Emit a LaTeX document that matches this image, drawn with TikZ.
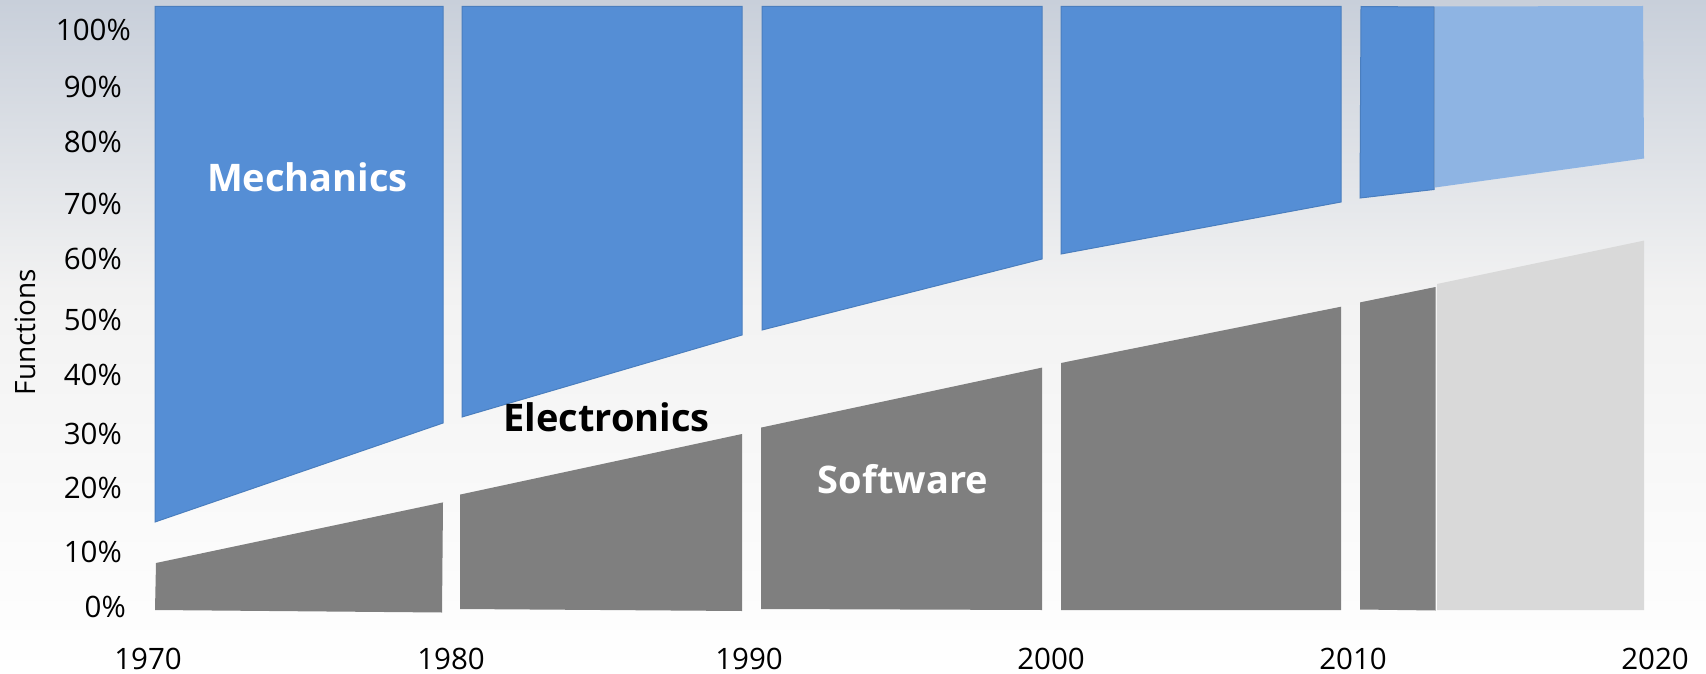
\documentclass[tikz,border=0pt]{standalone}
\usepackage{fontspec}
\setmainfont{Open Sans}
\definecolor{bgtop}{RGB}{200,207,218}
\definecolor{bgmid}{RGB}{242,242,242}
\definecolor{mechblue}{RGB}{85,142,213}
\definecolor{mechline}{RGB}{74,126,190}
\definecolor{lightblue}{RGB}{142,180,227}
\definecolor{softgrey}{RGB}{127,127,127}
\definecolor{lightgrey}{RGB}{217,217,217}
\begin{document}
\begin{tikzpicture}[x=1pt,y=-1pt,
  mech/.style={fill=mechblue,draw=mechline,line width=1pt,line join=miter},
  mechfut/.style={fill=lightblue},
  soft/.style={fill=softgrey},
  softfut/.style={fill=lightgrey},
  ylab/.style={font=\fontsize{29.5}{34}\selectfont,inner sep=0pt,anchor=base east,text=black},
  xlab/.style={font=\fontsize{29.5}{34}\selectfont,inner sep=0pt,anchor=base,text=black},
  biglab/.style={font=\fontsize{38}{42}\selectfont\bfseries,inner sep=0pt,anchor=base}]
\useasboundingbox (0,0) rectangle (1706,674);
% background
\shade[top color=bgtop,bottom color=bgmid] (0,0) rectangle (1706,291);
\shade[top color=bgmid,bottom color=white] (0,290) rectangle (1706,674);
% mechanics blocks
\path[mech] (155,6.5) -- (443,6.5) -- (443,423) -- (155,522) -- cycle;
\path[mech] (462,6.5) -- (742,6.5) -- (742,335) -- (462,417) -- cycle;
\path[mech] (762,6.5) -- (1042,6.5) -- (1042,259) -- (762,330) -- cycle;
\path[mech] (1061,6.5) -- (1341,6.5) -- (1341,202) -- (1061,254) -- cycle;
\path[mechfut] (1435,6.5) -- (1643,6) -- (1644,158.5) -- (1435,187.5) -- cycle;
\path[mech] (1361,6.5) -- (1434,7) -- (1434,189.5) -- (1360,198) -- cycle;
% software blocks
\path[soft] (156,563) -- (443,502.4) -- (442,612.5) -- (155,610) -- cycle;
\path[soft] (460,494.6) -- (742,434) -- (742,611) -- (460,609) -- cycle;
\path[soft] (761,427.6) -- (1042,367.6) -- (1042,610) -- (761,609) -- cycle;
\path[soft] (1061,363) -- (1341,306.7) -- (1341,610) -- (1061,610) -- cycle;
\path[soft] (1360,302.4) -- (1435.5,287) -- (1435.5,610.5) -- (1360,609.5) -- cycle;
\path[softfut] (1437,284) -- (1644,240.6) -- (1644,610) -- (1437,610) -- cycle;
% y axis labels
\node[ylab] (y100) at (131,40.3) {100\%};
\node[ylab] (y90) at (122,98) {90\%};
\node[ylab] (y80) at (122,152.8) {80\%};
\node[ylab] (y70) at (122,214.3) {70\%};
\node[ylab] (y60) at (122,269.3) {60\%};
\node[ylab] (y50) at (122,330.3) {50\%};
\node[ylab] (y40) at (122,385.3) {40\%};
\node[ylab] (y30) at (122,444.3) {30\%};
\node[ylab] (y20) at (122,498.3) {20\%};
\node[ylab] (y10) at (122,562.3) {10\%};
\node[ylab] (y0) at (126,617.3) {0\%};
\node[xlab,rotate=90,font=\fontsize{28}{32}\selectfont] (func) at (35,332) {Functions};
% x axis labels
\node[xlab] (x1970) at (148,669) {1970};
\node[xlab] (x1980) at (451,669) {1980};
\node[xlab] (x1990) at (749,669) {1990};
\node[xlab] (x2000) at (1051,669) {2000};
\node[xlab] (x2010) at (1353,669) {2010};
\node[xlab] (x2020) at (1655,669) {2020};
% category labels
\node[biglab,text=white] (mechanics) at (307.5,191.7) {Mechanics};
\node[biglab,text=black] (electronics) at (606.7,431.7) {Electronics};
\node[biglab,text=white] (software) at (903,493.3) {Software};
\end{tikzpicture}
\end{document}
